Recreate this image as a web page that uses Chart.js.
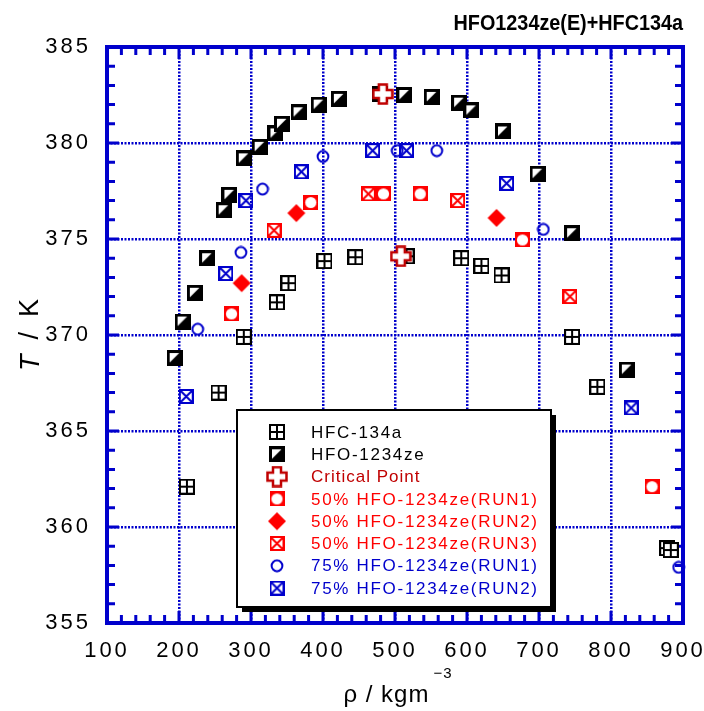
<!DOCTYPE html>
<html>
<head>
<meta charset="utf-8">
<title>HFO1234ze(E)+HFC134a</title>
<script src="https://cdn.jsdelivr.net/npm/chart.js@4.4.1/dist/chart.umd.min.js"></script>
<style>
    html, body { margin: 0; padding: 0; background: #ffffff; }
    canvas { display: block; }
</style>
</head>
<body>
<canvas id="phaseChart" width="704" height="711"></canvas>
<script>
// ===== DATA =====
const chartTitle = 'HFO1234ze(E)+HFC134a';

const xTicks = [100, 200, 300, 400, 500, 600, 700, 800, 900];
const yTicks = [355, 360, 365, 370, 375, 380, 385];

const hfc134aRho = [211, 255, 290, 336, 352, 402, 445, 516, 592, 620, 648, 746, 781, 878, 883];
const hfc134aT   = [362.1, 367.0, 369.9, 371.7, 372.7, 373.85, 374.05, 374.1, 374.0, 373.6, 373.1, 369.9, 367.3, 358.9, 358.8];

const hfo1234zeRho = [194, 205, 222, 239, 262, 270, 290, 312, 334, 343, 366, 394, 422, 479, 513, 551, 589, 606, 650, 698, 746, 822];
const hfo1234zeT   = [368.8, 370.7, 372.2, 374.0, 376.5, 377.3, 379.2, 379.8, 380.5, 381.0, 381.6, 382.0, 382.3, 382.55, 382.5, 382.4, 382.1, 381.7, 380.6, 378.4, 375.3, 368.2];

const criticalRho = [483, 508];
const criticalT   = [382.55, 374.1];

const mix50Run1Rho = [273, 383, 484, 535, 677, 857];
const mix50Run1T   = [371.1, 376.9, 377.35, 377.35, 374.95, 362.1];

const mix50Run2Rho = [287, 363, 641];
const mix50Run2T   = [372.7, 376.35, 376.1];

const mix50Run3Rho = [332, 463, 587, 743];
const mix50Run3T   = [375.45, 377.35, 377.0, 372.0];

const mix75Run1Rho = [226, 286, 316, 400, 503, 558, 706, 894];
const mix75Run1T   = [370.3, 374.3, 377.6, 379.3, 379.6, 379.6, 375.5, 357.9];

const mix75Run2Rho = [210, 265, 293, 370, 469, 516, 655, 828];
const mix75Run2T   = [366.8, 373.2, 377.0, 378.5, 379.6, 379.6, 377.9, 366.2];

// ===== COLOURS =====
const BLUE = '#0000cc';
const RED = '#ff0000';
const DARK_RED = '#c00000';
const FONT = '"Liberation Sans", Arial, sans-serif';

// ===== MARKERS (small canvases used as point styles) =====
function makeMarker(w, h, draw) {
    const c = document.createElement('canvas');
    c.width = w;
    c.height = h;
    draw(c.getContext('2d'));
    return c;
}

const markerHfc = makeMarker(16, 16, g => {
    g.fillStyle = '#000';
    g.fillRect(0, 0, 16, 16);
    g.fillStyle = '#fff';
    [[2, 2], [9, 2], [2, 9], [9, 9]].forEach(([x, y]) => g.fillRect(x, y, 5, 5));
});

const markerHfo = makeMarker(16, 16, g => {
    g.fillStyle = '#000';
    g.fillRect(0, 0, 16, 16);
    g.fillStyle = '#fff';
    g.beginPath();
    g.moveTo(3, 3);
    g.lineTo(12.5, 3);
    g.lineTo(3, 12.5);
    g.closePath();
    g.fill();
});

const markerCritical = makeMarker(22, 22, g => {
    const p = [[7, 1.5], [15, 1.5], [15, 7], [20.5, 7], [20.5, 15], [15, 15], [15, 20.5], [7, 20.5], [7, 15], [1.5, 15], [1.5, 7], [7, 7]];
    g.beginPath();
    p.forEach(([x, y], i) => i ? g.lineTo(x, y) : g.moveTo(x, y));
    g.closePath();
    g.fillStyle = '#fff';
    g.fill();
    g.strokeStyle = DARK_RED;
    g.lineWidth = 2.5;
    g.stroke();
});

const markerRun1Red = makeMarker(15, 15, g => {
    g.fillStyle = RED;
    g.fillRect(0, 0, 15, 15);
    g.fillStyle = '#fff';
    g.beginPath();
    g.arc(7.5, 7.5, 5.6, 0, Math.PI * 2);
    g.fill();
});

const markerDiamond = makeMarker(20, 20, g => {
    g.fillStyle = RED;
    g.beginPath();
    g.moveTo(10, 1);
    g.lineTo(19, 10);
    g.lineTo(10, 19);
    g.lineTo(1, 10);
    g.closePath();
    g.fill();
});

function boxCross(color) {
    return makeMarker(15, 15, g => {
        g.strokeStyle = color;
        g.lineWidth = 2;
        g.strokeRect(1, 1, 13, 13);
        g.beginPath();
        g.moveTo(2, 2); g.lineTo(13, 13);
        g.moveTo(13, 2); g.lineTo(2, 13);
        g.stroke();
    });
}
const markerCrossRed = boxCross(RED);
const markerCrossBlue = boxCross(BLUE);

const markerCircleBlue = makeMarker(14, 14, g => {
    g.strokeStyle = BLUE;
    g.lineWidth = 2;
    g.beginPath();
    g.arc(7, 7, 5.4, 0, Math.PI * 2);
    g.stroke();
});

function toPoints(xs, ys) {
    return xs.map((x, i) => ({ x: x, y: ys[i] }));
}

function series(label, xs, ys, marker, textColor, order) {
    return {
        label: label,
        data: toPoints(xs, ys),
        pointStyle: marker,
        textColor: textColor,
        showLine: false,
        clip: false,
        order: order
    };
}

const datasets = [
    series('HFC-134a', hfc134aRho, hfc134aT, markerHfc, '#000', 2),
    series('HFO-1234ze', hfo1234zeRho, hfo1234zeT, markerHfo, '#000', 2),
    series('Critical Point', criticalRho, criticalT, markerCritical, DARK_RED, 0),
    series('50% HFO-1234ze(RUN1)', mix50Run1Rho, mix50Run1T, markerRun1Red, RED, 1),
    series('50% HFO-1234ze(RUN2)', mix50Run2Rho, mix50Run2T, markerDiamond, RED, 1),
    series('50% HFO-1234ze(RUN3)', mix50Run3Rho, mix50Run3T, markerCrossRed, RED, 1),
    series('75% HFO-1234ze(RUN1)', mix75Run1Rho, mix75Run1T, markerCircleBlue, BLUE, 1),
    series('75% HFO-1234ze(RUN2)', mix75Run2Rho, mix75Run2T, markerCrossBlue, BLUE, 1)
];

// ===== PLUGINS =====
// wide digit spacing for the tick labels, switched off before the marks
const spacingPlugin = {
    id: 'spacing',
    beforeDraw(chart) { chart.ctx.letterSpacing = '3px'; },
    beforeDatasetsDraw(chart) { chart.ctx.letterSpacing = '0px'; }
};

// thick blue frame with inward ticks
const framePlugin = {
    id: 'frame',
    beforeDatasetsDraw(chart) {
        const { ctx, chartArea: a, scales: { x, y } } = chart;
        ctx.save();
        ctx.strokeStyle = BLUE;
        ctx.lineWidth = 4;
        ctx.strokeRect(a.left, a.top, a.right - a.left, a.bottom - a.top);
        ctx.lineWidth = 3;
        ctx.beginPath();
        for (let v = x.min; v <= x.max; v += 20) {
            const px = x.getPixelForValue(v);
            const len = v % 100 === 0 ? 12 : 8;
            ctx.moveTo(px, a.bottom); ctx.lineTo(px, a.bottom - len);
            ctx.moveTo(px, a.top); ctx.lineTo(px, a.top + len);
        }
        for (let v = y.min; v <= y.max; v += 1) {
            const py = y.getPixelForValue(v);
            const len = v % 5 === 0 ? 12 : 8;
            ctx.moveTo(a.left, py); ctx.lineTo(a.left + len, py);
            ctx.moveTo(a.right, py); ctx.lineTo(a.right - len, py);
        }
        ctx.stroke();
        ctx.restore();
    }
};

// boxed legend with drop shadow inside the plot
const legendPlugin = {
    id: 'boxLegend',
    afterDatasetsDraw(chart) {
        const ctx = chart.ctx;
        const box = { x: 237, y: 410, w: 314, h: 197 };
        ctx.save();
        ctx.fillStyle = '#000';
        ctx.fillRect(box.x + 5, box.y + 5, box.w, box.h);
        ctx.fillStyle = '#fff';
        ctx.fillRect(box.x, box.y, box.w, box.h);
        ctx.strokeStyle = '#000';
        ctx.lineWidth = 2;
        ctx.strokeRect(box.x, box.y, box.w, box.h);

        ctx.font = '17px ' + FONT;
        ctx.textBaseline = 'middle';
        ctx.textAlign = 'left';
        chart.data.datasets.forEach((ds, i) => {
            const rowY = 432 + i * 22.3;
            const m = ds.pointStyle;
            ctx.drawImage(m, 277 - m.width / 2, rowY - m.height / 2);
            ctx.fillStyle = ds.textColor;
            ctx.letterSpacing = ds.label === 'Critical Point' ? '1px' : '1.7px';
            ctx.fillText(ds.label, 311, rowY + 1);
        });
        ctx.restore();
    }
};

// chart title and axis titles (mixed italic / superscript)
const titlesPlugin = {
    id: 'titles',
    afterDraw(chart) {
        const ctx = chart.ctx;
        ctx.save();
        ctx.letterSpacing = '0px';
        ctx.fillStyle = '#000';

        // title, top right
        ctx.save();
        ctx.translate(683, 30);
        ctx.scale(0.9, 1);
        ctx.font = 'bold 22px ' + FONT;
        ctx.textAlign = 'right';
        ctx.textBaseline = 'alphabetic';
        ctx.fillText(chartTitle, 0, 0);
        ctx.restore();

        // x title: rho / kgm^-3
        const main = 'ρ / kgm';
        const sup = '−3';
        ctx.font = '24px ' + FONT;
        ctx.letterSpacing = '1px';
        const wMain = ctx.measureText(main).width;
        ctx.font = '15px ' + FONT;
        const wSup = ctx.measureText(sup).width;
        const x0 = 398 - (wMain + wSup + 4) / 2;
        ctx.textAlign = 'left';
        ctx.textBaseline = 'alphabetic';
        ctx.font = '24px ' + FONT;
        ctx.fillText(main, x0, 702);
        ctx.font = '15px ' + FONT;
        ctx.fillText(sup, x0 + wMain + 4, 678);

        // y title: T / K (T in italics), rotated
        ctx.translate(31, 335);
        ctx.rotate(-Math.PI / 2);
        ctx.letterSpacing = '0px';
        ctx.textBaseline = 'middle';
        ctx.font = 'italic 27px ' + FONT;
        const wT = ctx.measureText('T').width;
        ctx.font = '27px ' + FONT;
        const rest = '  /  K';
        const wRest = ctx.measureText(rest).width;
        const start = -(wT + wRest) / 2;
        ctx.font = 'italic 27px ' + FONT;
        ctx.fillText('T', start, 0);
        ctx.font = '27px ' + FONT;
        ctx.fillText(rest, start + wT, 0);
        ctx.restore();
    }
};

// ===== CHART =====
const tickFont = { family: FONT, size: 22 };

new Chart(document.getElementById('phaseChart').getContext('2d'), {
    type: 'scatter',
    data: { datasets: datasets },
    options: {
        responsive: false,
        animation: false,
        events: [],
        layout: { padding: { top: 47, right: 21, bottom: 0, left: 0 } },
        plugins: {
            legend: { display: false },
            tooltip: { enabled: false },
            title: { display: false }
        },
        scales: {
            x: {
                type: 'linear',
                min: xTicks[0],
                max: xTicks[xTicks.length - 1],
                afterFit: s => { s.height = 88; s.paddingLeft = 0; s.paddingRight = 0; },
                afterBuildTicks: s => { s.ticks = xTicks.map(v => ({ value: v })); },
                ticks: { color: '#000', font: tickFont, padding: 15, maxRotation: 0, autoSkip: false },
                grid: { color: BLUE, lineWidth: 2.5, drawTicks: false },
                border: { display: false, dash: [2, 1.5] }
            },
            y: {
                type: 'linear',
                min: yTicks[0],
                max: yTicks[yTicks.length - 1],
                afterFit: s => { s.width = 107; s.paddingTop = 0; s.paddingBottom = 0; },
                afterBuildTicks: s => { s.ticks = yTicks.map(v => ({ value: v })); },
                ticks: { color: '#000', font: tickFont, padding: 16, autoSkip: false },
                grid: { color: BLUE, lineWidth: 2.5, drawTicks: false },
                border: { display: false, dash: [2, 1.5] }
            }
        }
    },
    plugins: [spacingPlugin, framePlugin, legendPlugin, titlesPlugin]
});
</script>
</body>
</html>
